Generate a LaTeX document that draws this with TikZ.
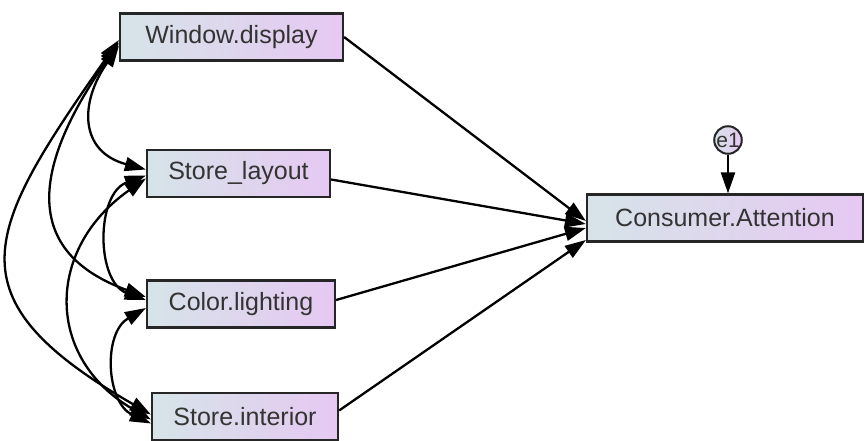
\documentclass[tikz,border=0pt]{standalone}
\usepackage{fontspec}
\setmainfont{Liberation Sans}
\usetikzlibrary{arrows.meta}

\definecolor{boxl}{RGB}{214,228,232}
\definecolor{boxr}{RGB}{230,200,242}

\tikzset{
  var/.style={draw=black!85, line width=2.2pt, left color=boxl, right color=boxr,
    minimum height=47pt, inner sep=0pt, text=black!80,
    font=\fontsize{25}{30}\selectfont},
  err/.style={circle, draw=black!85, line width=2pt, left color=boxl, right color=boxr,
    minimum size=27pt, inner sep=0pt, text=black!80,
    font=\fontsize{21}{24}\selectfont},
  reg/.style={line width=2.3pt, -{Triangle[length=21pt,width=14pt]}},
  cov/.style={line width=2.3pt,
    {Triangle[length=21pt,width=14pt]}-{Triangle[length=21pt,width=14pt]}},
}

\begin{document}
\begin{tikzpicture}[x=1pt,y=-1pt]
  \useasboundingbox (0,0) rectangle (865,440);
  \node[var, minimum width=223pt] (win) at (231.5,37) {Window.display};
  \node[var, minimum width=183pt] (lay) at (238.5,173.5) {Store\_layout};
  \node[var, minimum width=188pt] (col) at (241,304) {Color.lighting};
  \node[var, minimum width=186pt] (int) at (245,416.5) {Store.interior};
  \node[var, minimum width=276pt] (att) at (725,218) {Consumer.Attention};
  \node[err] (e1) at (728,140) {e1};

  \draw[reg] (win.east) -- ([yshift=-3pt]att.west);
  \draw[reg] ([yshift=-6pt]lay.east) -- ([yshift=-6pt]att.west);
  \draw[reg] ([yshift=4pt]col.east) -- ([yshift=-10pt]att.west);
  \draw[reg] ([yshift=6pt]int.east) -- ([yshift=-22pt]att.west);
  \draw[reg] (e1) -- (e1 |- att.north);

  \draw[cov] ([yshift=-9pt]win.west) to[out=235,in=165,looseness=1.4] ([yshift=4pt]lay.west);
  \draw[cov] ([yshift=-6pt]win.west) to[out=235,in=160,looseness=1.4] ([yshift=7pt]col.west);
  \draw[cov] ([yshift=-3pt]win.west) to[out=235,in=150,looseness=1.6] ([yshift=2pt]int.west);
  \draw[cov] ([yshift=-2pt]lay.west) to[out=200,in=160,looseness=1.1] ([yshift=4pt]col.west);
  \draw[cov] ([yshift=-5pt]lay.west) to[out=215,in=150,looseness=1.3] ([yshift=-3pt]int.west);
  \draw[cov] ([yshift=-4pt]col.west) to[out=210,in=155,looseness=1.1] ([yshift=-7pt]int.west);
\end{tikzpicture}
\end{document}
